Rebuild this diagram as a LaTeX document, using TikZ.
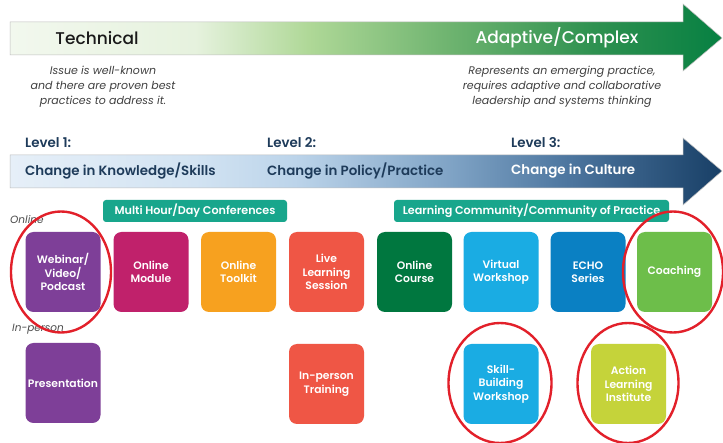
\documentclass[tikz,border=0pt]{standalone}
\usepackage{fontspec}
\setmainfont{Poppins}
\newfontfamily\pmed{Poppins Medium}
\newfontfamily\psemi{Poppins SemiBold}
\usetikzlibrary{shapes.geometric}
\definecolor{purp}{HTML}{7E3F98}
\definecolor{magen}{HTML}{C0216B}
\definecolor{orng}{HTML}{F7A11F}
\definecolor{tomato}{HTML}{EF5645}
\definecolor{dgreen}{HTML}{00773F}
\definecolor{lblue}{HTML}{1AACE3}
\definecolor{mblue}{HTML}{0A80C3}
\definecolor{lgreen}{HTML}{6DBE4A}
\definecolor{yellowgreen}{HTML}{C5D33A}
\definecolor{teal}{HTML}{18A68C}
\definecolor{ringred}{HTML}{E2202A}
\definecolor{navytext}{HTML}{1E3B5A}
\definecolor{g1}{HTML}{F2F8EE}
\definecolor{g2}{HTML}{E6F2DE}
\definecolor{g3}{HTML}{AFD897}
\definecolor{g4}{HTML}{6DB36F}
\definecolor{g5}{HTML}{2E9150}
\definecolor{g6}{HTML}{078042}
\definecolor{b1}{HTML}{E6EFF8}
\definecolor{b2}{HTML}{D2E3F2}
\definecolor{b3}{HTML}{BCD4EA}
\definecolor{b4}{HTML}{7FA3C5}
\definecolor{b5}{HTML}{4E77A0}
\definecolor{b6}{HTML}{183F66}
\pgfdeclarehorizontalshading{greenarrow}{100bp}{color(0bp)=(g1); color(25bp)=(g1); color(38bp)=(g2); color(46bp)=(g3); color(56bp)=(g4); color(66bp)=(g5); color(75bp)=(g6); color(100bp)=(g6)}
\pgfdeclarehorizontalshading{bluearrow}{100bp}{color(0bp)=(b1); color(25bp)=(b1); color(38bp)=(b2); color(45bp)=(b3); color(56bp)=(b4); color(64bp)=(b5); color(75bp)=(b6); color(100bp)=(b6)}
\tikzset{
  tile/.style={rounded corners=8pt, minimum width=75pt, minimum height=80pt, inner sep=0pt,
    text=white, font=\fontsize{10.8}{13.5}\selectfont\psemi, align=center},
  banner/.style={fill=teal, rounded corners=3pt, minimum height=22pt, inner sep=0pt,
    text=white, font=\fontsize{11.2}{12}\selectfont\psemi},
  ring/.style={draw=ringred, line width=2.4pt, ellipse, inner sep=0pt},
  note/.style={font=\fontsize{11}{15}\selectfont\itshape, text=black!75, align=center},
  rowlabel/.style={font=\fontsize{10.5}{12}\selectfont\itshape, text=black!70, anchor=west, inner sep=0pt},
  leveltext/.style={font=\fontsize{13.4}{15}\selectfont\psemi, anchor=west, inner sep=0pt}
}
\begin{document}
\begin{tikzpicture}[x=1pt,y=-1pt]
\useasboundingbox (0,0) rectangle (723,443);
\fill[white] (0,0) rectangle (723,443);
% green arrow
\path[shading=greenarrow, draw=black!25, line width=0.5pt]
  (10,22) -- (683,22) -- (683,4) -- (722,38) -- (683,71) -- (683,55) -- (10,55) -- cycle;
\node[font=\fontsize{17}{20}\selectfont\pmed, text=black!90, inner sep=0pt] (tech) at (97,38) {Technical};
\node[font=\fontsize{17}{20}\selectfont\pmed, text=white, inner sep=0pt] (adapt) at (557,38) {Adaptive/Complex};
\node[note] (lnote) at (103,87) {Issue is well-known\\and there are proven best\\practices to address it.};
\node[note] (rnote) at (562,87) {Represents an emerging practice,\\requires adaptive and collaborative\\leadership and systems thinking};
% blue arrow
\path[shading=bluearrow, draw=black!25, line width=0.5pt]
  (10,155) -- (683,155) -- (683,138) -- (722,171) -- (683,205) -- (683,188) -- (10,188) -- cycle;
\node[leveltext, text=navytext] (l1) at (25,143) {Level 1:};
\node[leveltext, text=navytext] (l2) at (267,143) {Level 2:};
\node[leveltext, text=navytext] (l3) at (511,143) {Level 3:};
\node[leveltext, text=navytext] (c1) at (25,171) {Change in Knowledge/Skills};
\node[leveltext, text=navytext] (c2) at (267,171) {Change in Policy/Practice};
\node[leveltext, text=white] (c3) at (511,171) {Change in Culture};
% banners
\node[banner, minimum width=184pt] (conf) at (195,211) {Multi Hour/Day Conferences};
\node[banner, minimum width=275pt] (lcop) at (531.5,211) {Learning Community/Community of Practice};
\node[rowlabel] (online) at (10,220) {Online};
\node[rowlabel] (inperson) at (12,329) {In-person};
% online tiles
\node[tile, fill=purp] (web) at (63,272) {Webinar/\\Video/\\Podcast};
\node[tile, fill=magen] (omod) at (151,272) {Online\\Module};
\node[tile, fill=orng] (otool) at (238.5,272) {Online\\Toolkit};
\node[tile, fill=tomato] (live) at (326.5,272) {Live\\Learning\\Session};
\node[tile, fill=dgreen] (ocourse) at (414.5,272) {Online\\Course};
\node[tile, fill=lblue] (vws) at (501,272) {Virtual\\Workshop};
\node[tile, fill=mblue] (echo) at (588,272) {ECHO\\Series};
\node[tile, fill=lgreen] (coach) at (674.5,272) {Coaching};
% in-person tiles
\node[tile, fill=purp] (pres) at (63,383) {Presentation};
\node[tile, fill=tomato] (ipt) at (326.5,384) {In-person\\Training};
\node[tile, fill=lblue] (skill) at (501,384) {Skill-\\Building\\Workshop};
\node[tile, fill=yellowgreen] (ali) at (628.5,384) {Action\\Learning\\Institute};
% rings
\node[ring, minimum width=100pt, minimum height=121pt] (r1) at (61,272) {};
\node[ring, minimum width=100pt, minimum height=121pt] (r2) at (673,272) {};
\node[ring, minimum width=103pt, minimum height=120pt] (r3) at (500,383) {};
\node[ring, minimum width=101pt, minimum height=120pt] (r4) at (628,383) {};
\end{tikzpicture}
\end{document}
